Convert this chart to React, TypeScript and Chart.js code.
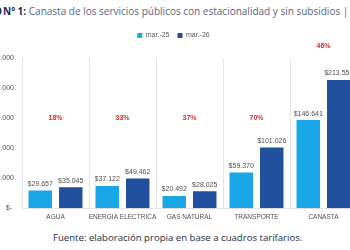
import { useEffect, useRef } from "react";
import { Chart, registerables } from "chart.js";

Chart.register(...registerables);

const categories = ["AGUA", "ENERGIA ELECTRICA", "GAS NATURAL", "TRANSPORTE", "CANASTA"];
const seriesNames = ["mar.-25", "mar.-26"];
const valuesMar25 = [29657, 37122, 20492, 59370, 146641];
const valuesMar26 = [35045, 49462, 28025, 101026, 213558];
const variationLabels = ["18%", "33%", "37%", "70%", "46%"];
const yTickValues = [0, 50000, 100000, 150000, 200000, 250000];

const LIGHT_BLUE = "#19a7e8";
const DARK_BLUE = "#20509e";
const RED = "#d0322e";
const LABEL_GREY = "#505050";

const formatPesos = (n: number) =>
  n === 0 ? "$- " : "$" + String(Math.round(n)).replace(/\B(?=(\d{3})+(?!\d))/g, ".");

// Extra room between the legend and the plot
const legendGapPlugin = {
  id: "legendGap",
  beforeInit(chart: any) {
    const legend = chart.legend;
    if (!legend) return;
    const originalFit = legend.fit;
    legend.fit = function () {
      originalFit.bind(legend)();
      this.height += 9;
    };
  },
};

// Writes the peso value above every bar and the variation above each group
const barLabelsPlugin = {
  id: "barLabels",
  afterDatasetsDraw(chart: any) {
    const { ctx, chartArea, scales } = chart;
    ctx.save();
    ctx.font = "7px 'Liberation Sans', sans-serif";
    ctx.fillStyle = LABEL_GREY;
    ctx.textAlign = "center";
    ctx.textBaseline = "bottom";
    chart.data.datasets.forEach((ds: any, di: number) => {
      const meta = chart.getDatasetMeta(di);
      meta.data.forEach((el: any, i: number) => {
        ctx.fillText(formatPesos(ds.data[i]), el.x, el.y - 3);
      });
    });
    ctx.font = "bold 7px 'Liberation Sans', sans-serif";
    ctx.fillStyle = RED;
    ctx.textBaseline = "middle";
    variationLabels.forEach((txt, i) => {
      const x = scales.x.getPixelForValue(i);
      const last = i === variationLabels.length - 1;
      const y = last ? chartArea.top - 12 : scales.y.getPixelForValue(150000);
      ctx.fillText(txt, x, y);
    });
    ctx.restore();
  },
};

function BarChart() {
  const canvasRef = useRef<HTMLCanvasElement | null>(null);

  useEffect(() => {
    if (!canvasRef.current) return;
    const chart = new Chart(canvasRef.current, {
      type: "bar",
      data: {
        labels: categories,
        datasets: [
          { label: seriesNames[0], data: valuesMar25, backgroundColor: LIGHT_BLUE },
          { label: seriesNames[1], data: valuesMar26, backgroundColor: DARK_BLUE },
        ],
      },
      options: {
        animation: false,
        responsive: true,
        maintainAspectRatio: false,
        datasets: { bar: { categoryPercentage: 0.91, barPercentage: 0.77 } },
        layout: { padding: { left: 20, right: 3, top: 0, bottom: 0 } },
        plugins: {
          legend: {
            position: "top",
            labels: {
              boxWidth: 5,
              boxHeight: 5,
              padding: 8,
              color: "#595959",
              font: { size: 7, family: "'Liberation Sans', sans-serif" },
            },
          },
          tooltip: { enabled: false },
        },
        scales: {
          x: {
            grid: { color: "#e4e4e4", drawTicks: false, offset: true },
            border: { color: "#e4e4e4" },
            ticks: {
              color: LABEL_GREY,
              padding: 5,
              maxRotation: 0,
              minRotation: 0,
              autoSkip: false,
              font: { size: 6.5, family: "'Liberation Sans', sans-serif" },
            },
          },
          y: {
            min: 0,
            max: 250000,
            afterFit: (scale: any) => {
              scale.width = 32;
            },
            afterBuildTicks: (scale: any) => {
              scale.ticks = yTickValues.map((v) => ({ value: v }));
            },
            grid: { display: false, drawTicks: false },
            border: { display: false },
            ticks: {
              padding: 8,
              color: LABEL_GREY,
              font: { size: 7, family: "'Liberation Sans', sans-serif" },
              callback: (v: any) => formatPesos(Number(v)),
            },
          },
        },
      },
      plugins: [legendGapPlugin, barLabelsPlugin],
    });
    return () => chart.destroy();
  }, []);

  return <canvas ref={canvasRef} />;
}

export default function App() {
  return (
    <div
      style={{
        position: "fixed",
        left: 0,
        top: 0,
        width: 350,
        height: 250,
        overflow: "hidden",
        background: "#ffffff",
        fontFamily: "'Open Sans', sans-serif",
      }}
    >
      <div
        style={{
          position: "absolute",
          right: 348,
          top: 4,
          whiteSpace: "nowrap",
          fontSize: 10,
          fontWeight: 700,
          color: "#1d2a55",
        }}
      >
        GRÁFICO
      </div>
      <div
        style={{
          position: "absolute",
          left: 3,
          top: 4,
          whiteSpace: "nowrap",
          fontSize: 10,
          color: "#5b6482",
        }}
      >
        <span style={{ fontWeight: 700, color: "#1d2a55" }}>Nº 1:</span> Canasta de los servicios
        públicos con estacionalidad y sin subsidios | AMBA
      </div>
      <div style={{ position: "absolute", left: -30, top: 24, width: 390, height: 202 }}>
        <BarChart />
      </div>
      <div
        style={{
          position: "absolute",
          left: 53,
          top: 231,
          whiteSpace: "nowrap",
          fontSize: 9.6,
          color: "#222c48",
        }}
      >
        Fuente: elaboración propia en base a cuadros tarifarios.
      </div>
    </div>
  );
}
